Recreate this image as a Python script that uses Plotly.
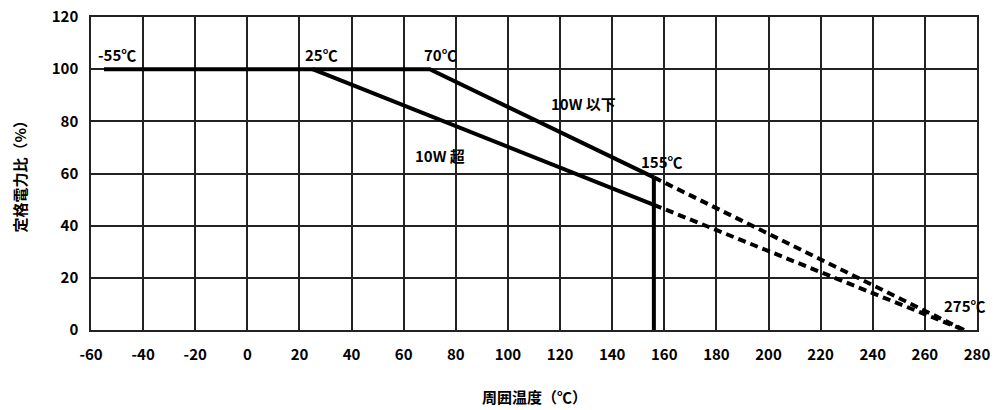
import plotly.graph_objects as go

# ---- data ----
x_ticks = [-60, -40, -20, 0, 20, 40, 60, 80, 100, 120, 140, 160, 180, 200, 220, 240, 260, 280]
x_tick_labels = ["-60", "-40", "-20", "0", "20", "40", "60", "80", "100", "120", "140",
                 "160", "180", "200", "220", "240", "260", "280"]
y_ticks = [0, 20, 40, 60, 80, 100, 120]
y_tick_labels = ["0", "20", "40", "60", "80", "100", "120"]

le10_x = [-55, 70, 156]          # 10W以下 (solid)
le10_y = [100, 100, 58.5]
le10_ext_x = [156, 275]          # 10W以下 extension (dashed)
le10_ext_y = [58.5, 0]
gt10_x = [25, 156]               # 10W超 (solid)
gt10_y = [100, 48]
gt10_ext_x = [156, 275]          # 10W超 extension (dashed)
gt10_ext_y = [48, 0]
limit_x = [156, 156]             # 155℃ limit
limit_y = [0, 58.5]

labels = [
    ("-55℃", -55, 100), ("25℃", 25, 100), ("70℃", 70, 100),
    ("10W 以下", 129, 87), ("10W 超", 74, 67), ("155℃", 155, 59), ("275℃", 275, 0),
]

FONT = "Liberation Sans Narrow, Noto Sans CJK JP, sans-serif"
CJK = "Noto Sans CJK JP, sans-serif"

fig = go.Figure()
solid = dict(color="black", width=4)
dashed = dict(color="black", width=4, dash="8px,5px")
fig.add_trace(go.Scatter(x=le10_x, y=le10_y, mode="lines", line=solid))
fig.add_trace(go.Scatter(x=gt10_x, y=gt10_y, mode="lines", line=solid))
fig.add_trace(go.Scatter(x=le10_ext_x, y=le10_ext_y, mode="lines", line=dashed))
fig.add_trace(go.Scatter(x=gt10_ext_x, y=gt10_ext_y, mode="lines", line=dashed))
fig.add_trace(go.Scatter(x=limit_x, y=limit_y, mode="lines", line=solid))

ann_pos = {
    "-55℃": dict(xanchor="left", yanchor="bottom", xshift=-8, yshift=2),
    "25℃": dict(xanchor="left", yanchor="bottom", xshift=-10, yshift=2),
    "70℃": dict(xanchor="left", yanchor="bottom", xshift=-8, yshift=2),
    "10W 以下": dict(xanchor="center", yanchor="middle"),
    "10W 超": dict(xanchor="center", yanchor="middle"),
    "155℃": dict(xanchor="left", yanchor="bottom", xshift=-12, yshift=2),
    "275℃": dict(xanchor="left", yanchor="bottom", xshift=-22, yshift=12),
}
for text, x, y in labels:
    fig.add_annotation(x=x, y=y, text="<b>%s</b>" % text, showarrow=False,
                       font=dict(family=CJK, size=15, color="black"), **ann_pos[text])

fig.add_annotation(xref="paper", yref="paper", x=0.5, y=0, yshift=-66, text="<b>周囲温度（℃）</b>",
                   showarrow=False, xanchor="center", yanchor="middle",
                   font=dict(family=CJK, size=15, color="black"))
fig.add_annotation(xref="paper", yref="paper", x=0, y=0.5, xshift=-72, text="<b>定格電力比（%）</b>",
                   showarrow=False, textangle=-90, xanchor="center", yanchor="middle",
                   font=dict(family=CJK, size=15, color="black"))

axis_common = dict(showgrid=True, gridcolor="#222", gridwidth=1.5, showline=True,
                   linecolor="#222", linewidth=1.5, mirror=True, zeroline=False,
                   automargin=False, ticks="",
                   tickfont=dict(family=FONT, size=15, color="black", weight="bold"))
fig.update_xaxes(range=[-60, 280], tickmode="array", tickvals=x_ticks, ticktext=x_tick_labels,
                 ticklabelstandoff=10, **axis_common)
fig.update_yaxes(range=[0, 120], tickmode="array", tickvals=y_ticks, ticktext=y_tick_labels,
                 ticklabelstandoff=8, **axis_common)

fig.update_layout(width=996, height=410, margin=dict(l=91, r=19, t=17, b=80, autoexpand=False),
                  plot_bgcolor="white", paper_bgcolor="white", showlegend=False)
fig.write_html("out.html", config={"displayModeBar": False},
               post_script="document.body.style.margin='0';")
